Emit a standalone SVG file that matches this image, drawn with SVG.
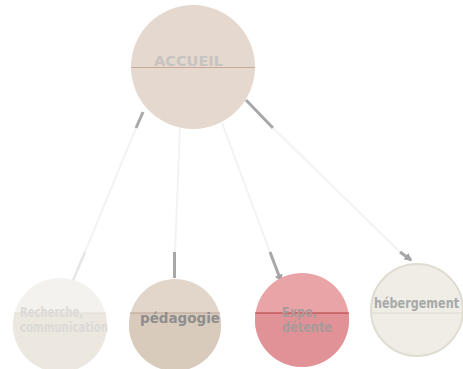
<svg xmlns="http://www.w3.org/2000/svg" width="463" height="369" viewBox="0 0 463 369">
<defs>
<marker id="ah" viewBox="0 0 10 10" refX="8" refY="5" markerWidth="8" markerHeight="8" markerUnits="userSpaceOnUse" orient="auto"><path d="M0,0 L10,5 L0,10 z" fill="#a4a4a4"/></marker>
<marker id="ahl" viewBox="0 0 10 10" refX="8" refY="5" markerWidth="8" markerHeight="8" markerUnits="userSpaceOnUse" orient="auto"><path d="M0,0 L10,5 L0,10 z" fill="#e6e6e6"/></marker>
<style>
.lbl{font-family:"DejaVu Sans","Liberation Sans",sans-serif;font-weight:bold;font-size:14px}
.faint{stroke:#f3f3f3;stroke-width:2;fill:none}
.dark{stroke:#a8a8a8;stroke-width:3;fill:none}
.pale{stroke:#e6e6e6;stroke-width:2.5;fill:none}
</style>
</defs>
<g id="connectors">
<line class="faint" x1="136" y1="128" x2="85" y2="252"/>
<line class="dark" x1="143" y1="112" x2="136" y2="128"/>
<line class="pale" x1="85" y1="252" x2="69" y2="290" marker-end="url(#ahl)"/>
<line class="faint" x1="180" y1="128" x2="175" y2="252"/>
<line class="dark" x1="174.5" y1="252" x2="174.5" y2="278"/>
<line class="faint" x1="222" y1="123" x2="270" y2="252"/>
<line class="dark" x1="270" y1="252" x2="281" y2="281" marker-end="url(#ah)"/>
<line class="dark" x1="246" y1="100" x2="273" y2="128"/>
<line class="faint" x1="273" y1="128" x2="400" y2="252"/>
<line class="dark" x1="400" y1="252" x2="411" y2="260" marker-end="url(#ah)"/>
</g>
<g id="accueil">
<circle cx="193" cy="67" r="62" fill="#e5d8ce"/>
<line x1="131" y1="67.5" x2="255" y2="67.5" stroke="#c9aa9a" stroke-width="1"/>
<text class="lbl" x="154" y="66" font-size="15" fill="#c6c3c1" textLength="69" lengthAdjust="spacingAndGlyphs">ACCUEIL</text>
</g>
<g id="recherche">
<circle cx="60" cy="325" r="47" fill="#f4f2ee"/>
<path d="M14.6,313 A47,47 0 1 0 105.4,313 Z" fill="#ece7df"/>
<line x1="14" y1="313" x2="106" y2="313" stroke="#e2ddd5" stroke-width="1"/>
<text class="lbl" font-size="12" fill="#dcdad7"><tspan x="20" y="317" textLength="63" lengthAdjust="spacingAndGlyphs">Recherche,</tspan><tspan x="20" y="332" textLength="88" lengthAdjust="spacingAndGlyphs">communication</tspan></text>
</g>
<g id="pedagogie">
<circle cx="175" cy="325" r="46" fill="#e2d6cb"/>
<path d="M130.6,313 A46,46 0 1 0 219.4,313 Z" fill="#d9cbbc"/>
<line x1="130" y1="313" x2="220" y2="313" stroke="#b9a392" stroke-width="1"/>
<text class="lbl" x="140" y="323" fill="#8e8e8e" textLength="80" lengthAdjust="spacingAndGlyphs">pédagogie</text>
</g>
<g id="expo">
<circle cx="302" cy="320" r="47" fill="#e9a4a8"/>
<path d="M255.5,313 A47,47 0 1 0 348.5,313 Z" fill="#e19296"/>
<line x1="255" y1="313" x2="349" y2="313" stroke="#b23a3c" stroke-width="1"/>
<text class="lbl" font-size="13" fill="#a89a9a"><tspan x="282" y="317" textLength="35" lengthAdjust="spacingAndGlyphs">Expo,</tspan><tspan x="282" y="332" textLength="50" lengthAdjust="spacingAndGlyphs">détente</tspan></text>
</g>
<g id="hebergement">
<circle cx="417" cy="310" r="46" fill="#efede6" stroke="#e0dcd2" stroke-width="2"/>
<line x1="372" y1="313" x2="462" y2="313" stroke="#dcd8cc" stroke-width="1"/>
<text class="lbl" x="374" y="308" fill="#a9a9a6" textLength="85" lengthAdjust="spacingAndGlyphs">hébergement</text>
</g>
</svg>
